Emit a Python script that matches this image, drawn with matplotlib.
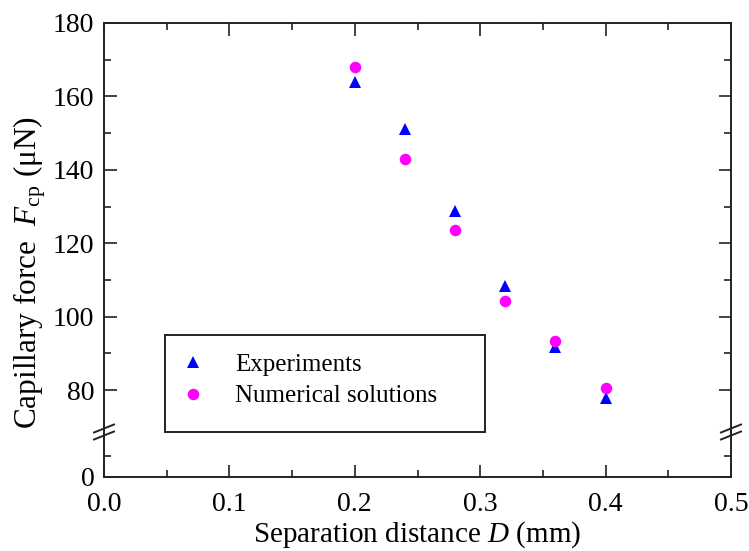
import matplotlib
matplotlib.use("Agg")
import matplotlib.pyplot as plt
from matplotlib.patches import Rectangle
from matplotlib.lines import Line2D
from matplotlib.ticker import MultipleLocator, FixedLocator

plt.rcParams['font.family'] = ['Liberation Serif', 'DejaVu Serif']
plt.rcParams['mathtext.fontset'] = 'custom'
plt.rcParams['mathtext.rm'] = 'Liberation Serif'
plt.rcParams['mathtext.it'] = 'Liberation Serif:italic'

# Data
separation = [0.20, 0.24, 0.28, 0.32, 0.36, 0.40]
experiments = [164.0, 151.0, 128.8, 108.3, 91.6, 77.7]
numerical = [168.0, 142.9, 123.7, 104.3, 93.4, 80.5]

x_ticks = [0.0, 0.1, 0.2, 0.3, 0.4, 0.5]
upper_yticks = [80, 100, 120, 140, 160, 180]
lower_yticks = [0]

fig = plt.figure(figsize=(7.49, 5.51), dpi=100)
W, H = 749, 551
L, R, T, B, BRK = 104, 731, 23, 477, 432

ax_up = fig.add_axes([L / W, 1 - BRK / H, (R - L) / W, (BRK - T) / H])
ax_lo = fig.add_axes([L / W, 1 - B / H, (R - L) / W, (B - BRK) / H])

spine_c = '#222222'
for ax in (ax_up, ax_lo):
    ax.set_xlim(0, 0.5)
    for s in ax.spines.values():
        s.set_linewidth(1.4)
        s.set_color(spine_c)
    ax.set_facecolor('none')

ax_up.set_ylim(68.56, 180)
ax_lo.set_ylim(0, 21.4)
ax_up.spines['bottom'].set_visible(False)
ax_lo.spines['top'].set_visible(False)

FS = 20

# ticks upper
ax_up.yaxis.set_major_locator(FixedLocator(upper_yticks))
ax_up.yaxis.set_minor_locator(FixedLocator([90, 110, 130, 150, 170]))
ax_up.xaxis.set_major_locator(FixedLocator(x_ticks))
ax_up.xaxis.set_minor_locator(MultipleLocator(0.05))
ax_up.tick_params(axis='both', which='both', direction='in', top=True, bottom=False,
                  right=True, left=True, labelbottom=False, labeltop=False,
                  labelsize=FS, color=spine_c, width=1.2, pad=7)
ax_up.tick_params(which='major', length=9)
ax_up.tick_params(which='minor', length=5)

# ticks lower
ax_lo.yaxis.set_major_locator(FixedLocator(lower_yticks))
ax_lo.yaxis.set_minor_locator(FixedLocator([10]))
ax_lo.xaxis.set_major_locator(FixedLocator(x_ticks))
ax_lo.xaxis.set_minor_locator(MultipleLocator(0.05))
ax_lo.tick_params(axis='both', which='both', direction='in', top=False, bottom=True,
                  right=True, left=True, labelsize=FS, color=spine_c, width=1.2, pad=7)
ax_lo.tick_params(axis='x', which='both', pad=11)
ax_lo.tick_params(which='major', length=9)
ax_lo.tick_params(which='minor', length=5)
ax_lo.set_xticklabels([f'{v:.1f}' for v in x_ticks])
ax_lo.set_yticklabels([str(v) for v in lower_yticks])
ax_up.set_yticklabels([str(v) for v in upper_yticks])

# data
h1, = ax_up.plot(separation, experiments, linestyle='none', marker='^', color='#0000ff',
                 markersize=9, markeredgewidth=0, label='Experiments', clip_on=False)
h2, = ax_up.plot(separation, numerical, linestyle='none', marker='o', color='#ff00ff',
                 markersize=8.3, markeredgewidth=0, label='Numerical solutions', clip_on=False)

# legend
leg = ax_up.legend(handles=[h1, h2], loc='upper left',
                   bbox_to_anchor=((180 - L) / (R - L), (BRK - 353) / (BRK - T)),
                   frameon=False, fontsize=18, handlelength=1.0, handletextpad=1.2,
                   labelspacing=0.38, borderaxespad=0, borderpad=0)
ax_up.add_patch(Rectangle(((165 - L) / (R - L), 0), (485 - 165) / (R - L), (BRK - 335) / (BRK - T),
                          transform=ax_up.transAxes, fill=False, edgecolor=spine_c,
                          linewidth=1.4, zorder=5, clip_on=False))

# axis labels
fig.text((L + R) / 2 / W, 1 - 535 / H, 'Separation distance $\\mathit{D}$ (mm)',
         ha='center', va='center', fontsize=21)
fig.text(30 / W, 1 - 272 / H, 'Capillary force  $F_{\\mathrm{cp}}$ (μN)', rotation=90,
         ha='center', va='center', fontsize=22.5)

# break marks
for xb in (L, R):
    for dy in (-3.5, 3.5):
        fig.add_artist(Line2D([(xb - 10) / W, (xb + 10) / W],
                              [1 - (BRK + dy + 4) / H, 1 - (BRK + dy - 4) / H],
                              color=spine_c, linewidth=1.4))

fig.savefig('out.png', dpi=100)
